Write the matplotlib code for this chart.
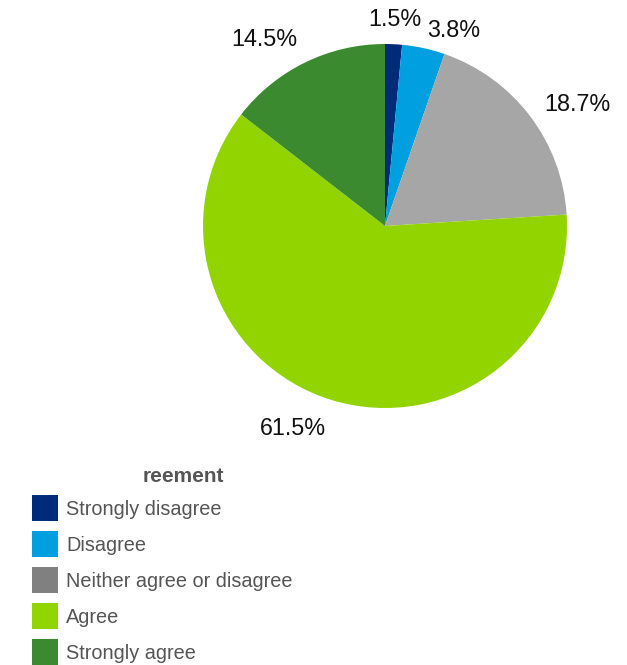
import matplotlib.pyplot as plt
from matplotlib.patches import Patch

plt.rcParams['font.family'] = ['Liberation Sans', 'DejaVu Sans']

categories = ["Strongly disagree", "Disagree", "Neither agree or disagree",
              "Agree", "Strongly agree"]
values = [1.5, 3.8, 18.7, 61.5, 14.5]
pie_colors = ["#002A7A", "#00A0E0", "#A6A6A6", "#92D400", "#3C8A30"]
legend_colors = ["#002A7A", "#00A0E0", "#808080", "#92D400", "#3C8A30"]
legend_title = "reement"

# alignment of the percentage labels around the pie
label_ha = ["center", "left", "left", "right", "right"]
label_va = ["baseline", "center", "center", "top", "baseline"]

W, H = 627, 665
fig = plt.figure(figsize=(W / 100, H / 100), dpi=100)

# pie centred at about (385, 226) px, radius 182 px
cx, cy, r = 385, 226, 182
ax = fig.add_axes([(cx - r) / W, 1 - (cy + r) / H, 2 * r / W, 2 * r / H])
wedges, texts = ax.pie(values, colors=pie_colors, startangle=90,
                       counterclock=False, radius=1,
                       labels=["%.1f%%" % v for v in values],
                       labeldistance=1.1,
                       textprops=dict(fontsize=16.8, color="#111111"))
for t, ha, va in zip(texts, label_ha, label_va):
    t.set_ha(ha)
    t.set_va(va)
ax.set_xlim(-1, 1)
ax.set_ylim(-1, 1)
ax.set_aspect("equal")
ax.axis("off")

handles = [Patch(facecolor=c, edgecolor="none") for c in legend_colors]
fig.legend(handles, categories, loc="upper left",
           bbox_to_anchor=(32 / W, 1 - 495.5 / H), frameon=False,
           fontsize=14.3, handlelength=1.31, handleheight=1.637,
           labelspacing=0.5, handletextpad=0.4, borderpad=0,
           borderaxespad=0, labelcolor="#555555")
fig.text(183 / W, 1 - 476 / H, legend_title, fontsize=15, fontweight="bold",
         color="#555555", ha="center", va="center")

fig.savefig("out.png", dpi=100)
